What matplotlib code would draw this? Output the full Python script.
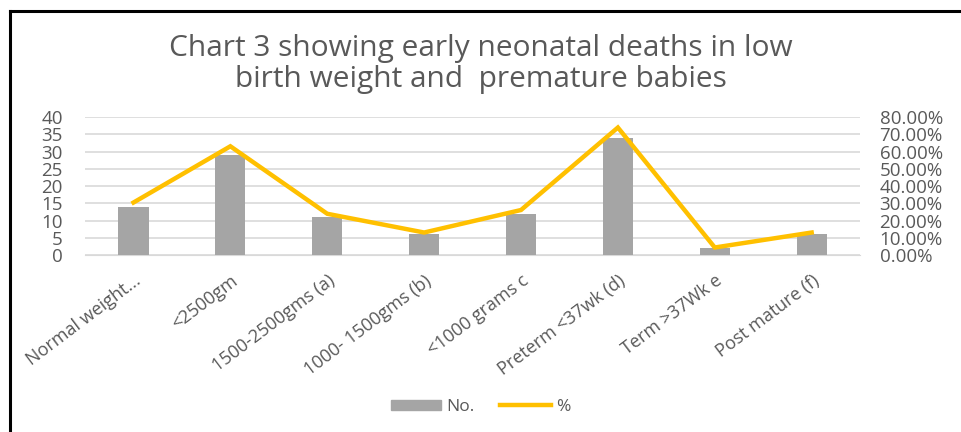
import matplotlib.pyplot as plt
from matplotlib.lines import Line2D
from matplotlib.patches import Patch
from matplotlib.ticker import FuncFormatter

# Данные графика
categories = ["Normal weight...", "<2500gm", "1500-2500gms (a)", "1000- 1500gms (b)",
              "<1000 grams c", "Preterm <37wk (d)", "Term >37Wk e", "Post mature (f)"]
counts = [14, 29, 11, 6, 12, 34, 2, 6]
percents = [30.43, 63.04, 23.91, 13.04, 26.09, 73.91, 4.35, 13.04]

plt.rcParams['font.family'] = ['Open Sans', 'DejaVu Sans']
grey_txt = '#595959'

fig = plt.figure(figsize=(9.61, 4.32), dpi=100)
ax = fig.add_axes([0.0885, 0.4097, 0.8065, 0.3194])
ax2 = ax.twinx()

x = list(range(len(categories)))
ax.bar(x, counts, width=0.31, color='#A5A5A5', zorder=3)
ax2.plot(x, percents, color='#FFC000', linewidth=3.2, solid_joinstyle='miter', zorder=4)

ax.set_xlim(-0.5, len(categories) - 0.5)
ax.set_ylim(0, 40)
ax.set_yticks(range(0, 41, 5))
ax2.set_ylim(0, 80)
ax2.set_yticks(range(0, 81, 10))
ax2.yaxis.set_major_formatter(FuncFormatter(lambda v, p: f"{v:.2f}%"))

ax.grid(axis='y', color='#D9D9D9', linewidth=1.2, zorder=0)
ax.set_axisbelow(True)
for a in (ax, ax2):
    for s in a.spines.values():
        s.set_visible(False)
    a.tick_params(length=0, colors=grey_txt, labelsize=13.5)
ax.tick_params(axis='y', pad=16)
ax2.tick_params(axis='y', pad=14)
ax.spines['bottom'].set_visible(True)
ax.spines['bottom'].set_color('#D9D9D9')

ax.set_xticks(x)
ax.set_xticklabels(categories, rotation=37, ha='right', rotation_mode='anchor',
                   fontsize=13, color=grey_txt)
ax.tick_params(axis='x', pad=12)

fig.text(0.5, 0.852, "Chart 3 showing early neonatal deaths in low\nbirth weight and  premature babies",
         ha='center', va='center', fontsize=21.5, color=grey_txt, linespacing=1.1)

handles = [Patch(color='#A5A5A5'), Line2D([0], [0], color='#FFC000', linewidth=3.2)]
fig.legend(handles, ["No.", "%"], loc='center', bbox_to_anchor=(0.5, 0.058), ncol=2,
           frameon=False, fontsize=12.5, labelcolor=grey_txt, handlelength=2.9,
           handleheight=0.5, columnspacing=1.5, handletextpad=0.3)

# Рамка сверху и слева
fig.add_artist(Line2D([10 / 961, 1], [1 - 11 / 432, 1 - 11 / 432], color='black', linewidth=2.2))
fig.add_artist(Line2D([10 / 961, 10 / 961], [0, 1 - 11 / 432], color='black', linewidth=2.2))

fig.savefig('out.png', dpi=100)
